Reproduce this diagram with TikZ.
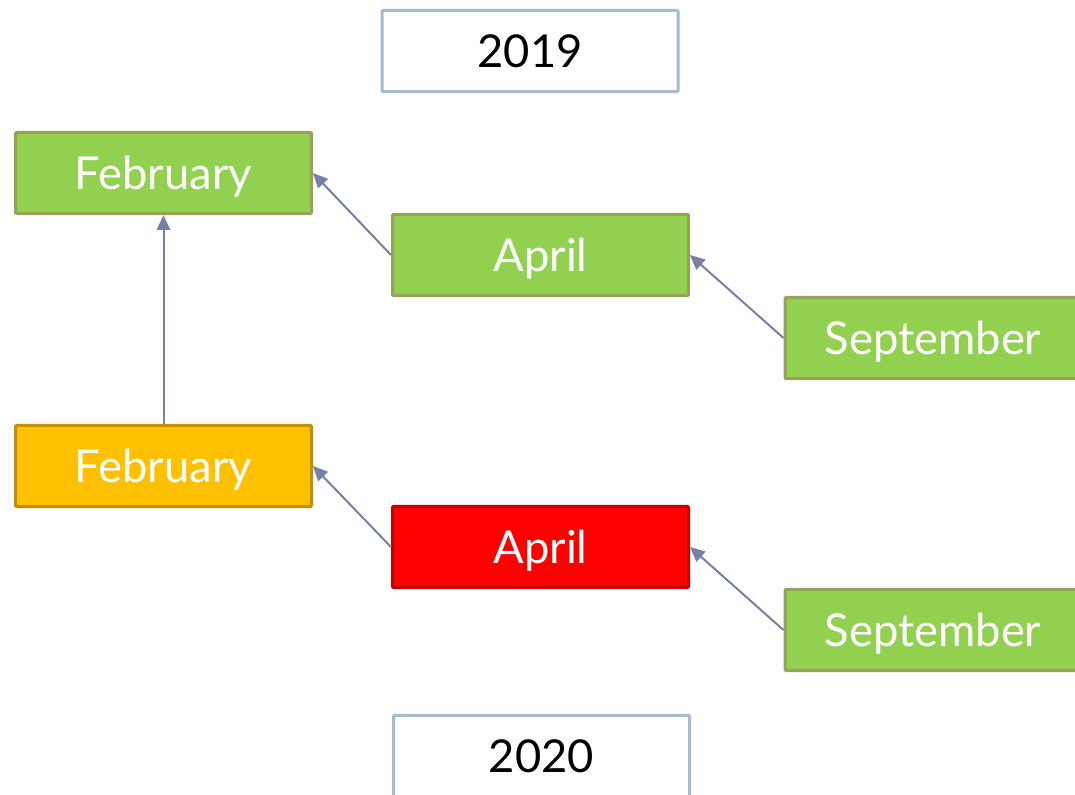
\documentclass[tikz,border=0pt]{standalone}
\usepackage{fontspec}
\setmainfont{Lato}
\usetikzlibrary{arrows.meta}
\definecolor{leafgreen}{HTML}{92D050}
\definecolor{leafedge}{HTML}{98A05A}
\definecolor{amberfill}{HTML}{FFC000}
\definecolor{amberedge}{HTML}{BF9000}
\definecolor{alarmred}{HTML}{FF0000}
\definecolor{alarmedge}{HTML}{C00000}
\definecolor{yearedge}{HTML}{A3BBD3}
\definecolor{linkgray}{HTML}{7680A6}

\begin{document}
\begin{tikzpicture}[x=0.75pt,y=-0.75pt,
month/.style={rectangle,draw,line width=2.25pt,rounded corners=0.8pt,
  minimum width=222pt,minimum height=61pt,inner sep=0pt,text depth=0pt,
  text=white,font=\fontsize{34}{40}\selectfont},
ok/.style={month,fill=leafgreen,draw=leafedge},
late/.style={month,fill=amberfill,draw=amberedge},
missed/.style={month,fill=alarmred,draw=alarmedge},
year/.style={month,fill=white,draw=yearedge,text=black},
link/.style={-{Triangle[length=11pt,width=10pt]},draw=linkgray,line width=1.5pt}
]
\useasboundingbox (0,0) rectangle (1075,794);
\clip (0,0) rectangle (1075,794);

% 2019
\node [year] (y19) at (530,51) {2019};
\node [ok] (feb19) at (163.5,173) {February};
\node [ok] (apr19) at (540.5,255) {April};
\node [ok] (sep19) at (933,338) {September};

% 2020
\node [late] (feb20) at (163.5,466) {February};
\node [missed] (apr20) at (540.5,547) {April};
\node [ok] (sep20) at (933,630) {September};
\node [year] (y20) at (541.5,756) {2020};

\draw [link] (apr19.west) -- (feb19.east);
\draw [link] (sep19.west) -- (apr19.east);
\draw [link] (feb20.north) -- (feb19.south);
\draw [link] (apr20.west) -- (feb20.east);
\draw [link] (sep20.west) -- (apr20.east);
\end{tikzpicture}
\end{document}
